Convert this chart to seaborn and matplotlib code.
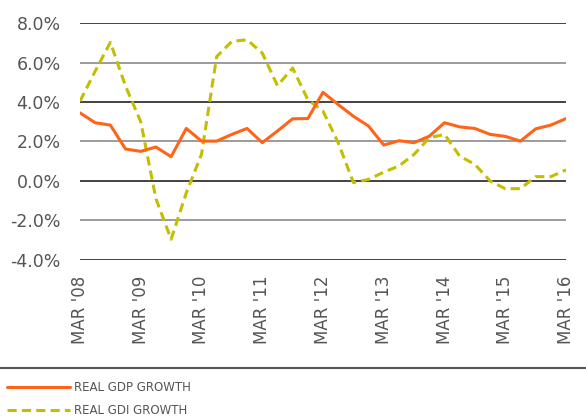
import numpy as np
import pandas as pd
import matplotlib
matplotlib.use("Agg")
import matplotlib.pyplot as plt
import seaborn as sns
from matplotlib.lines import Line2D

# Datos trimestrales, MAR '08 a MAR '16
trimestres = list(range(33))
gdp = [3.45, 2.95, 2.83, 1.62, 1.50, 1.72, 1.23, 2.66, 2.02, 2.02, 2.36, 2.66, 1.94,
       2.53, 3.15, 3.16, 4.49, 3.87, 3.28, 2.78, 1.82, 2.04, 1.94, 2.27, 2.95, 2.74,
       2.66, 2.36, 2.26, 2.02, 2.64, 2.83, 3.16]
gdi = [4.04, 5.56, 7.02, 4.8, 3.0, -0.9, -2.95, -0.6, 1.35, 6.3, 7.07, 7.15, 6.48,
       4.83, 5.72, 4.12, 3.54, 1.94, -0.08, 0.08, 0.45, 0.76, 1.35, 2.19, 2.36, 1.26,
       0.84, 0.0, -0.39, -0.39, 0.22, 0.22, 0.56]
etiquetas_x = ["MAR '08", "MAR '09", "MAR '10", "MAR '11", "MAR '12",
               "MAR '13", "MAR '14", "MAR '15", "MAR '16"]
valores_y = [-4, -2, 0, 2, 4, 6, 8]

df = pd.DataFrame({"q": trimestres, "gdp": gdp, "gdi": gdi})

sns.set_style("white")
plt.rcParams['font.family'] = ['Liberation Sans Narrow', 'DejaVu Sans']

naranja = "#FF6418"
amarillo = "#C3BE00"
guiones = (0, (3.0, 1.7))

fig = plt.figure(figsize=(5.86, 4.19), dpi=100)
ax = fig.add_axes([0.1365, 0.3795, 0.8294, 0.5656])

# Líneas de referencia horizontales (alternando negro y gris)
for i, v in enumerate(valores_y):
    ax.axhline(v, color="#222222" if i % 2 == 0 else "#8a8a8a", lw=1.2, zorder=1)

sns.lineplot(data=df, x="q", y="gdp", ax=ax, color=naranja, lw=2.2, zorder=3)
sns.lineplot(data=df, x="q", y="gdi", ax=ax, color=amarillo, lw=2.2, zorder=2,
             linestyle=guiones)

ax.set_xlim(0, 32)
ax.set_ylim(-4, 8)
ax.set_xlabel("")
ax.set_ylabel("")
ax.set_yticks(valores_y)
ax.set_yticklabels([f"{v:.1f}%" for v in valores_y], fontsize=12.5, color="#555555")
ax.set_xticks(list(range(0, 33, 4)))
ax.set_xticklabels(etiquetas_x, rotation=90, fontsize=12, color="#555555")
ax.tick_params(axis="y", length=0, pad=14)
ax.tick_params(axis="x", length=0, pad=11)
for s in ax.spines.values():
    s.set_visible(False)

# Línea separadora sobre la leyenda
fig.add_artist(Line2D([0, 1], [0.1217, 0.1217], transform=fig.transFigure,
                      color="#555555", lw=1.5))

handles = [Line2D([], [], color=naranja, lw=2.2),
           Line2D([], [], color=amarillo, lw=2.2, linestyle=guiones)]
fig.legend(handles, ["REAL GDP GROWTH", "REAL GDI GROWTH"], loc="lower left",
           bbox_to_anchor=(0.0, -0.012), frameon=False, fontsize=8.5,
           handlelength=5.3, handletextpad=0.4, labelspacing=0.85,
           labelcolor="#555555", borderaxespad=0.2)

fig.savefig("out.png", dpi=100)
